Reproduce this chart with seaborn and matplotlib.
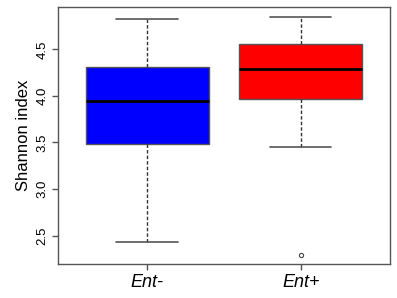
import pandas as pd
import numpy as np
import matplotlib
matplotlib.use("Agg")
import matplotlib.pyplot as plt
import seaborn as sns

# Valores (min, Q1, mediana, Q3, max + atipico)
grupos = ["Ent-", "Ent+"]
ent_menos = [2.43, 3.48, 3.95, 4.31, 4.83]
ent_mas = [2.29, 3.45, 3.97, 3.97, 4.29, 4.56, 4.56, 4.85, 4.85]
colores = {"Ent-": "#0000FF", "Ent+": "#FF0000"}

data = pd.DataFrame({
    "grupo": ["Ent-"] * len(ent_menos) + ["Ent+"] * len(ent_mas),
    "shannon": ent_menos + ent_mas
})

sns.set_style("white")
plt.rcParams["font.family"] = ["Liberation Sans", "DejaVu Sans"]

fig = plt.figure(figsize=(3.97, 2.98), dpi=100)
ax = fig.add_axes([0.146, 0.114, 0.836, 0.863])

gris = "#555555"
sns.boxplot(data=data, x="grupo", y="shannon", hue="grupo", palette=colores,
            order=grupos, width=0.8, whis=1.5, linecolor=gris, linewidth=1,
            saturation=1, legend=False, ax=ax,
            medianprops=dict(color="black", linewidth=2),
            whiskerprops=dict(color="#333333", linestyle=(0, (2.5, 1.5)), linewidth=1),
            capprops=dict(color=gris, linewidth=1.2),
            flierprops=dict(marker="o", markerfacecolor="none",
                            markeredgecolor="#444444", markersize=3, markeredgewidth=0.8))

ax.set_xlim(-0.58, 1.58)
ax.set_ylim(2.194, 4.957)
ax.set_yticks([2.5, 3.0, 3.5, 4.0, 4.5])
ax.set_yticklabels(["2.5", "3.0", "3.5", "4.0", "4.5"], rotation=90, va="center",
                   fontsize=9.5, color="black")
ax.set_xticks([0, 1])
ax.set_xticklabels(grupos, fontsize=13, style="italic", color="black")
ax.set_xlabel("")
ax.set_ylabel("Shannon index", fontsize=12, labelpad=4, color="black")
ax.tick_params(axis="both", length=4, color=gris, width=1, left=True, bottom=True, pad=3)
for s in ax.spines.values():
    s.set_color(gris)
    s.set_linewidth(1)

plt.savefig("out.png", dpi=100)
